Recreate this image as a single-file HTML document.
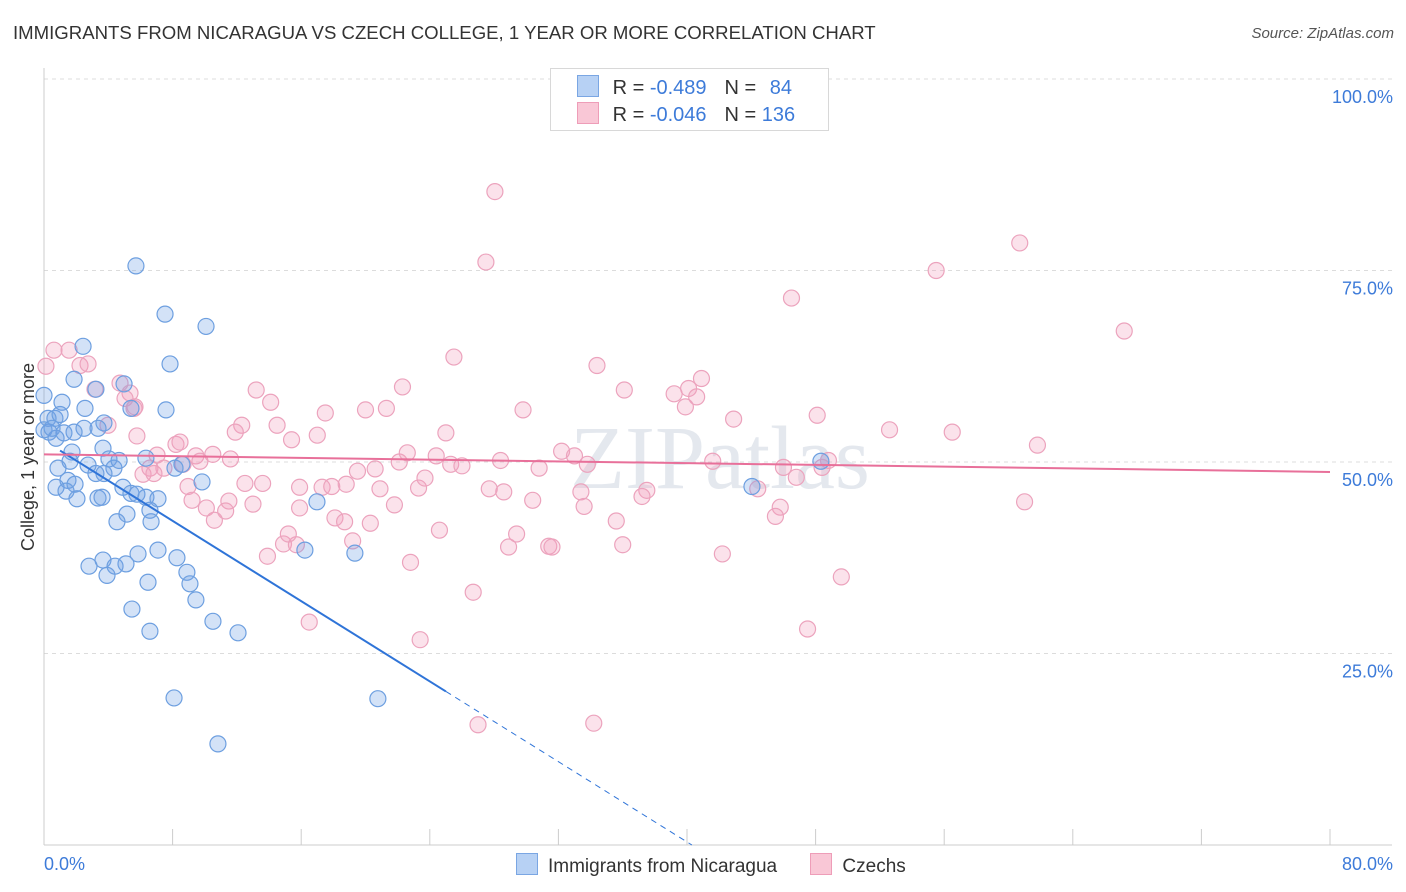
<!DOCTYPE html>
<html><head><meta charset="utf-8"><style>
body{margin:0;background:#fff;font-family:"Liberation Sans",sans-serif;}
#wrap{position:relative;width:1406px;height:892px;overflow:hidden;}
.t{position:absolute;white-space:nowrap;}
</style></head><body>
<div id="wrap">
<div class="t" style="left:13px;top:22px;font-size:18.6px;color:#333;">IMMIGRANTS FROM NICARAGUA VS CZECH COLLEGE, 1 YEAR OR MORE CORRELATION CHART</div>
<div class="t" style="right:12px;top:25px;font-size:15px;color:#555;font-style:italic;">Source: ZipAtlas.com</div>
<svg id="svg" width="1406" height="892" style="position:absolute;left:0;top:0"></svg>
</div>
<script>
const xTicks=[0,80];
const yTicks=[25,50,75,100];
const blueX=[5.72,7.53,10.08,7.84,2.43,1.87,3.23,4.98,7.59,2.55,1.12,0.25,0.68,3.73,5.41,2.49,3.36,1.87,0.31,0.75,1.24,1.74,1.62,0.87,2.74,3.67,4.04,4.35,4.67,6.34,8.15,8.58,9.83,1.49,1.93,0.75,1.37,2.05,3.36,3.61,4.91,5.41,5.78,6.34,7.09,6.59,5.16,4.54,6.66,16.98,3.73,5.85,7.09,8.27,8.89,9.08,9.45,2.80,3.67,4.42,5.10,3.92,6.47,5.47,6.59,10.51,12.07,8.09,10.82,16.23,19.34,20.77,44.04,48.33,0,0,0.5,1.0,3.23];
const blueY=[75.6,69.3,67.7,62.8,65.1,60.8,59.5,60.2,56.8,57.0,57.8,55.7,55.7,55.1,57.0,54.4,54.4,53.9,53.9,53.1,53.8,51.3,50.1,49.2,49.6,51.8,50.4,49.2,50.2,50.5,49.2,49.7,47.4,47.6,47.1,46.7,46.2,45.2,45.3,45.4,46.7,45.9,45.8,45.4,45.2,43.7,43.2,42.2,42.2,44.8,48.5,38.0,38.5,37.5,35.6,34.1,32.0,36.4,37.2,36.4,36.7,35.2,34.3,30.8,27.9,29.2,27.7,19.2,13.2,38.5,38.1,19.1,46.8,50.1,58.7,54.2,54.4,56.2,48.5];
const pinkX=[28.05,27.49,60.7,55.5,46.5,67.2,0.62,1.56,2.24,0.12,2.74,25.5,34.4,40.9,40.1,36.1,22.3,13.2,14.1,4.73,5.35,3.17,5.04,5.66,3.98,5.60,17.5,20.0,21.3,29.8,39.2,40.6,39.9,42.9,48.1,52.6,56.5,61.8,12.3,14.5,11.9,17.0,15.4,25.0,5.78,8.21,8.46,9.45,10.5,7.03,6.59,7.46,8.65,9.70,11.6,12.5,13.6,19.5,20.6,22.1,22.6,24.4,25.3,26.0,28.4,30.8,32.2,33.8,33.0,41.6,46.0,46.8,48.8,48.4,6.16,6.84,8.96,9.21,11.5,10.1,11.3,10.6,13.0,15.9,17.3,17.9,18.8,20.9,23.3,23.7,27.7,28.6,30.4,33.4,33.6,37.5,37.2,44.4,45.8,45.5,15.9,18.1,18.7,20.3,21.8,24.6,28.9,29.4,31.4,31.6,35.6,36.0,42.2,49.6,13.9,14.9,15.7,15.2,19.2,22.8,26.7,16.5,23.4,47.5,61.0,27.0,34.2];
const pinkY=[85.3,76.1,78.6,75.0,71.4,67.1,64.6,64.6,62.6,62.5,62.8,63.7,62.6,60.9,59.6,59.4,59.8,59.4,57.8,60.3,59.0,59.5,58.3,57.2,54.8,57.0,56.4,56.8,57.0,56.8,58.9,58.5,57.2,55.6,56.1,54.2,53.9,52.2,54.8,54.8,53.9,53.5,52.9,53.8,53.4,52.3,52.6,50.8,51.0,50.9,49.2,49.2,49.7,50.1,50.4,47.2,47.2,48.8,49.1,50.0,51.2,50.8,49.7,49.5,50.2,49.2,51.4,49.7,50.8,50.1,49.3,48.0,50.2,49.3,48.4,48.5,46.8,45.0,44.9,44.0,43.6,42.4,44.5,46.7,46.7,46.8,47.1,46.5,46.6,47.9,46.5,46.1,45.0,46.1,44.2,46.3,45.5,46.5,44.1,42.9,44.0,42.7,42.2,42.0,44.4,41.1,38.9,40.6,39.0,38.9,42.3,39.2,38.0,35.0,37.7,39.3,39.2,40.6,39.7,36.9,33.0,29.1,26.8,28.2,44.8,15.7,15.9];
const blueTrend=[52.8,-1.31];
const pinkTrend=[51.0,48.7];

const X0=44,X1=1330,Y0=845,Y100=79;
const sx=v=>X0+(X1-X0)*v/80;
const sy=v=>Y0-(Y0-Y100)*v/100;
const svg=document.getElementById('svg');
const NS='http://www.w3.org/2000/svg';
function mk(tag,at){const e=document.createElementNS(NS,tag);for(const k in at)e.setAttribute(k,at[k]);svg.appendChild(e);return e;}

for(const v of yTicks){
 const g=mk('line',{x1:X0,x2:1392,y1:sy(v),y2:sy(v),stroke:'#dcdcdc','stroke-dasharray':'4,4'});
 
 
 const t=mk('text',{x:1393,y:sy(v)+24,'text-anchor':'end','font-size':18,fill:'#3d7bd9','font-family':'Liberation Sans'});
 t.textContent=v.toFixed(1)+'%';
 
 
}
const ax=mk('line',{x1:X0,x2:X0,y1:68,y2:Y0,stroke:'#ccc'});


const bx=mk('line',{x1:X0,x2:1392,y1:Y0,y2:Y0,stroke:'#ccc'});


for(let i=0;i<=10;i++){
 const tk=mk('line',{x1:sx(i*8),x2:sx(i*8),y1:Y0,y2:Y0-16,stroke:'#ccc'});
 
 
}
const xl=[[X0,'start'],[1393,'end']];
xTicks.forEach((v,i)=>{const t=mk('text',{x:xl[i][0],y:870,'text-anchor':xl[i][1],'font-size':18,fill:'#3d7bd9','font-family':'Liberation Sans'});
 t.textContent=v.toFixed(1)+'%';
 
 });
const yt=mk('text',{x:0,y:0,transform:'translate(34,457) rotate(-90)','text-anchor':'middle','font-size':18,fill:'#333','font-family':'Liberation Sans'});
yt.textContent='College, 1 year or more';


const wm=mk('text',{x:720,y:488,'text-anchor':'middle','font-size':90,fill:'#e4e8ee','font-family':'Liberation Serif'});
wm.textContent='ZIPatlas';



pinkX.forEach((x,i)=>{const c=mk('circle',{cx:sx(x),cy:sy(pinkY[i]),r:8,fill:'rgba(242,160,190,0.3)',stroke:'#eca3bd','stroke-width':1.2});
 
 });
blueX.forEach((x,i)=>{const c=mk('circle',{cx:sx(x),cy:sy(blueY[i]),r:8,fill:'rgba(110,160,230,0.3)',stroke:'#6d9fe0','stroke-width':1.2});
 
 });

const bt=x=>blueTrend[0]+blueTrend[1]*x;
const bl=mk('line',{x1:sx(1),y1:sy(bt(1)),x2:sx(25),y2:sy(bt(25)),stroke:'#2f74d8','stroke-width':2});


const xe=-blueTrend[0]/blueTrend[1];
const bd=mk('line',{x1:sx(25),y1:sy(bt(25)),x2:sx(xe),y2:sy(0),stroke:'#2f74d8','stroke-width':1,'stroke-dasharray':'6,5'});


const pl=mk('line',{x1:sx(0),y1:sy(pinkTrend[0]),x2:sx(80),y2:sy(pinkTrend[1]),stroke:'#e8709a','stroke-width':2});


</script>
<div class="t" style="left:550px;top:68px;width:277px;height:61px;border:1px solid #d8d8d8;background:#fff;font-size:20px;color:#333;">
 <div style="position:absolute;left:26px;top:6px;">
  <span style="display:inline-block;width:20px;height:20px;background:#b7d1f4;border:1px solid #7aa6e3;vertical-align:-3px"></span>
  <span style="margin-left:8px">R = </span><span style="color:#3d7bd9">-0.489</span><span style="margin-left:18px">N = </span><span style="color:#3d7bd9;margin-left:8px">84</span>
 </div>
 <div style="position:absolute;left:26px;top:33px;">
  <span style="display:inline-block;width:20px;height:20px;background:#f9c7d6;border:1px solid #ee9db8;vertical-align:-3px"></span>
  <span style="margin-left:8px">R = </span><span style="color:#3d7bd9">-0.046</span><span style="margin-left:18px">N = </span><span style="color:#3d7bd9">136</span>
 </div>
</div>
<div class="t" style="left:516px;top:853px;font-size:19px;color:#333;">
 <span><span style="display:inline-block;width:20px;height:20px;background:#b7d1f4;border:1px solid #7aa6e3;vertical-align:-3px"></span><span style="margin-left:10px">Immigrants from Nicaragua</span></span>
 <span style="margin-left:28px"><span style="display:inline-block;width:20px;height:20px;background:#f9c7d6;border:1px solid #ee9db8;vertical-align:-3px"></span><span style="margin-left:10px">Czechs</span></span>
</div>
</body></html>
